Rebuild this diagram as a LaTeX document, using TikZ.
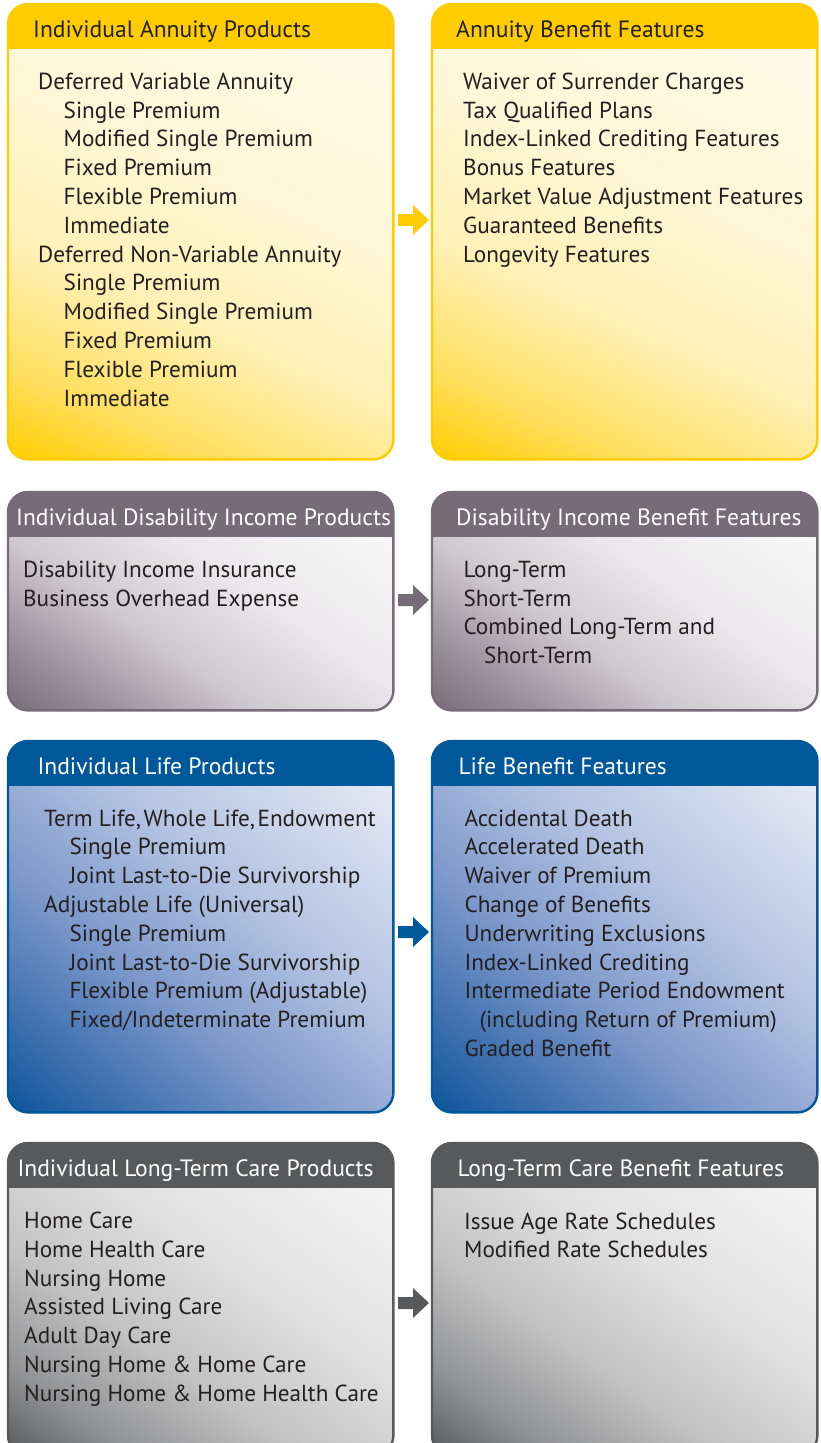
\documentclass[tikz,border=0pt]{standalone}
\usepackage{fontspec}
\setmainfont{PT Sans}
\usetikzlibrary{calc}
\definecolor{cgold}{HTML}{FFCC00}
\definecolor{cmauve}{HTML}{786B78}
\definecolor{cblue}{HTML}{00579A}
\definecolor{cgrey}{HTML}{58595B}
\definecolor{ctext}{HTML}{231F20}
% gradient stops at t = 0, 0.15, 0.35, 0.6, 1
\colorlet{g0}{cgold}\colorlet{g1}{cgold!62!white}\colorlet{g2}{cgold!29!white}\colorlet{g3}{cgold!16!white}\colorlet{g4}{cgold!7!white}
\colorlet{m0}{cmauve}\colorlet{m1}{cmauve!75!white}\colorlet{m2}{cmauve!37!white}\colorlet{m3}{cmauve!15!white}\colorlet{m4}{cmauve!2!white}
\definecolor{b0}{HTML}{0B559A}\definecolor{b1}{HTML}{3F70B0}\definecolor{b2}{HTML}{7C98CA}\definecolor{b3}{HTML}{B4C3E2}\definecolor{b4}{HTML}{EEF1F8}
\colorlet{k0}{cgrey}\colorlet{k1}{cgrey!66!white}\colorlet{k2}{cgrey!37!white}\colorlet{k3}{cgrey!18!white}\colorlet{k4}{cgrey!4!white}
\newcommand\mkshade[1]{%
  \pgfdeclarehorizontalshading{sh#1}{100bp}{color(0bp)=(#10); color(25bp)=(#10);
    color(32.5bp)=(#11); color(42.5bp)=(#12); color(55bp)=(#13);
    color(75bp)=(#14); color(100bp)=(#14)}}
\mkshade{g}\mkshade{m}\mkshade{b}\mkshade{k}
\tikzset{
  item/.style={anchor=base west, inner sep=0pt, text=ctext, font=\fontsize{23.2}{28}\selectfont},
  head/.style={item, font=\fontsize{23.6}{28}\selectfont},
  headw/.style={head, text=white},
  boxframe/.style={line width=2.4pt, rounded corners=20pt},
  barrow/.pic={\fill[pic actions] (0,-6) -- (15,-6) -- (15,-15) -- (31,0) -- (15,15) -- (15,6) -- (0,6) -- cycle;}
}
% #1 name, #2 colour, #3 shading, #4 x, #5 y, #6 w, #7 h, #8 gradient angle
\newcommand\gbox[8]{%
  \node[draw=none, minimum width=#6pt, minimum height=#7pt, anchor=north west, inner sep=0pt] (#1) at (#4,#5) {};
  \begin{scope}
    \clip[rounded corners=20pt] (#1.north west) rectangle (#1.south east);
    \pgfmathsetmacro\Lx{#6*cos(#8)+#7*sin(#8)}
    \pgfmathsetmacro\Ly{#6*sin(#8)+#7*cos(#8)}
    \shade[shading=sh#3, transform canvas={rotate around={#8:(#1.center)}}]
      ($(#1.center)+(-\Lx/2,-\Ly/2)$) rectangle ($(#1.center)+(\Lx/2,\Ly/2)$);
    \fill[#2] ([yshift=3pt]#1.north west) rectangle ([yshift=-44.5pt]#1.north east);
  \end{scope}
  \draw[boxframe, #2] (#1.north west) rectangle (#1.south east);
}
\begin{document}
\begin{tikzpicture}[x=1pt,y=-1pt]
\useasboundingbox (0,0) rectangle (820,1443);
\clip (0,0) rectangle (820,1443);
\fill[white] (0,0) rectangle (820,1443);

% boxes
\gbox{annP}{cgold}{g}{8}{4}{385}{455}{66}
\gbox{annB}{cgold}{g}{432}{4}{385}{455}{66}
\gbox{disP}{cmauve}{m}{8}{492}{385}{218}{55}
\gbox{disB}{cmauve}{m}{432}{492}{385}{218}{55}
\gbox{lifP}{cblue}{b}{8}{741}{385}{371}{50}
\gbox{lifB}{cblue}{b}{432}{741}{385}{371}{50}
\gbox{ltcP}{cgrey}{k}{8}{1143}{385}{312}{55}
\gbox{ltcB}{cgrey}{k}{432}{1143}{385}{312}{55}

% arrows
\pic[fill=cgold] (ar1) at (398,220) {barrow};
\pic[fill=cmauve] (ar2) at (398,600) {barrow};
\pic[fill=cblue] (ar3) at (398,932) {barrow};
\pic[fill=cgrey] (ar4) at (398,1303) {barrow};

% headers
\node[head] (h1) at (33,37) {Individual Annuity Products};
\node[head] (h2) at (456,37) {Annuity Benefit Features};
\node[headw] (h3) at (16,525.7) {Individual Disability Income Products};
\node[headw] (h4) at (456,525.7) {Disability Income Benefit Features};
\node[headw] (h5) at (37.3,774) {Individual Life Products};
\node[headw] (h6) at (458.3,774) {Life Benefit Features};
\node[headw] (h7) at (17.3,1176.7) {Individual Long-Term Care Products};
\node[headw] (h8) at (457.3,1176.7) {Long-Term Care Benefit Features};

% row 1
\foreach \i/\t [count=\n from 0] in {0/{Deferred Variable Annuity},1/{Single Premium},1/{Modified Single Premium},1/{Fixed Premium},1/{Flexible Premium},1/{Immediate},0/{Deferred Non-Variable Annuity},1/{Single Premium},1/{Modified Single Premium},1/{Fixed Premium},1/{Flexible Premium},1/{Immediate}}
  \node[item] (a\n) at ({38+25.5*\i},{89.3+28.8*\n}) {\t};
\foreach \t [count=\n from 0] in {{Waiver of Surrender Charges},{Tax Qualified Plans},{Index-Linked Crediting Features},{Bonus Features},{Market Value Adjustment Features},{Guaranteed Benefits},{Longevity Features}}
  \node[item] (b\n) at (463,{89.3+28.8*\n}) {\t};

% row 2
\foreach \t [count=\n from 0] in {{Disability Income Insurance},{Business Overhead Expense}}
  \node[item] (c\n) at (23,{577.3+28.8*\n}) {\t};
\foreach \i/\t [count=\n from 0] in {0/{Long-Term},0/{Short-Term},0/{Combined Long-Term and},1/{Short-Term}}
  \node[item] (d\n) at ({463.3+20.7*\i},{577.3+28.8*\n}) {\t};

% row 3
\foreach \i/\t [count=\n from 0] in {0/{Term Life,\hspace{2.5pt}Whole Life,\hspace{2.5pt}Endowment},1/{Single Premium},1/{Joint Last-to-Die Survivorship},0/{Adjustable Life (Universal)},1/{Single Premium},1/{Joint Last-to-Die Survivorship},1/{Flexible Premium (Adjustable)},1/{Fixed/Indeterminate Premium}}
  \node[item] (e\n) at ({44+25.3*\i},{826+28.8*\n}) {\t};
\foreach \i/\t [count=\n from 0] in {0/{Accidental Death},0/{Accelerated Death},0/{Waiver of Premium},0/{Change of Benefits},0/{Underwriting Exclusions},0/{Index-Linked Crediting},0/{Intermediate Period Endowment},1/{(including Return of Premium)},0/{Graded Benefit}}
  \node[item] (f\n) at ({464.3+15*\i},{826+28.8*\n}) {\t};

% row 4
\foreach \t [count=\n from 0] in {{Home Care},{Home Health Care},{Nursing Home},{Assisted Living Care},{Adult Day Care},{Nursing Home \& Home Care},{Nursing Home \& Home Health Care}}
  \node[item] (g\n) at (24,{1228.5+28.8*\n}) {\t};
\foreach \t [count=\n from 0] in {{Issue Age Rate Schedules},{Modified Rate Schedules}}
  \node[item] (k\n) at (464,{1229+28.8*\n}) {\t};
\end{tikzpicture}
\end{document}
